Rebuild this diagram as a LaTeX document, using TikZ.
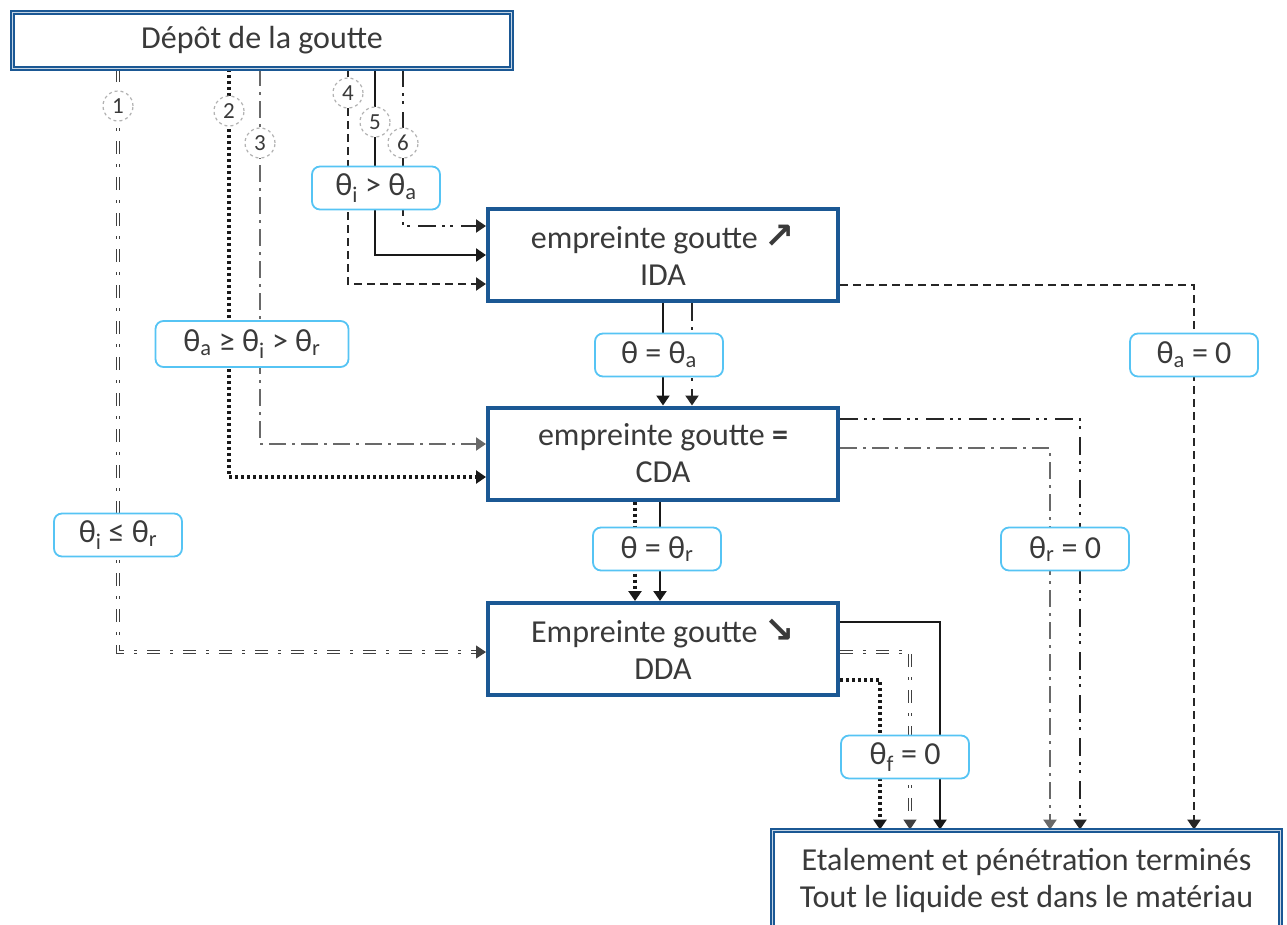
\documentclass[tikz,border=0pt]{standalone}
\usepackage{fontspec}
\setmainfont{Carlito}
\newfontfamily\flechefont{DejaVu Sans}
\usetikzlibrary{arrows.meta, positioning, calc, backgrounds}
\definecolor{dblue}{RGB}{27,88,148}
\definecolor{cyanb}{RGB}{86,196,244}
\definecolor{txt}{RGB}{58,58,58}
\definecolor{gline}{RGB}{105,105,105}

\tikzset{
  etape/.style={draw=dblue, line width=4pt, fill=white, minimum width=350pt, minimum height=92pt, align=center, text=txt, font=\fontsize{32}{37}\selectfont},
  cadre/.style={draw=dblue, double=dblue!25, double distance=1.4pt, line width=1.8pt, fill=white, align=center, text=txt, font=\fontsize{32}{37}\selectfont},
  cond/.style={draw=cyanb, line width=1.8pt, rounded corners=8pt, fill=white, minimum width=128pt, minimum height=43pt, text=txt, font=\fontsize{32}{37}\selectfont},
  num/.style={circle, draw=gray!60, dashed, line width=1.2pt, fill=white, minimum size=30pt, inner sep=0pt, text=txt, font=\fontsize{23}{25}\selectfont},
  fleche/.style={-{Triangle[length=10pt,width=13pt]}},
  pone/.style={fleche, draw=black!75, line width=1.1pt, double=white, double distance=1.4pt, dash pattern=on 13pt off 10pt on 3pt off 10pt},
  ptwo/.style={fleche, draw=black!90, line width=3.5pt, dash pattern=on 3pt off 3pt},
  pthree/.style={fleche, draw=gline, line width=2.2pt, dash pattern=on 17pt off 6pt on 3pt off 6pt},
  pfour/.style={fleche, draw=black!85, line width=2.2pt, dash pattern=on 8pt off 5pt},
  pfive/.style={fleche, draw=black!90, line width=2.2pt},
  psix/.style={fleche, draw=black!85, line width=2.2pt, dash pattern=on 18pt off 6pt on 3pt off 5pt on 3pt off 8pt}
}

\begin{document}
\begin{tikzpicture}[x=1pt, y=-1pt]
  \useasboundingbox (0,0) rectangle (1287,924);

  % Boxes
  \node[cadre, minimum width=499pt, minimum height=56pt] (depot) at (262,40.5) {Dépôt de la goutte};
  \node[etape] (IDA) at (663,255) {empreinte goutte {\flechefont\bfseries\fontsize{36}{37}\selectfont ↗}\\IDA};
  \node[etape] (CDA) at (663,453.5) {empreinte goutte \textbf{=}\\CDA};
  \node[etape] (DDA) at (663,649) {Empreinte goutte {\flechefont\bfseries\fontsize{36}{37}\selectfont ↘}\\DDA};
  \node[cadre, minimum width=508pt, minimum height=100pt] (fin) at (1026.5,880.5) {Etalement et pénétration terminés\\Tout le liquide est dans le matériau};

  % Path numbers
  \node[num] (c1) at (118,106) {1};
  \node[num] (c2) at (229,111) {2};
  \node[num] (c3) at (260,143) {3};
  \node[num] (c4) at (348,93) {4};
  \node[num] (c5) at (375,122) {5};
  \node[num] (c6) at (403,143) {6};

  % Conditions
  \node[cond] (lia) at (376,188) {θ\textsubscript{i} > θ\textsubscript{a}};
  \node[cond, minimum width=193pt, minimum height=46pt] (lar) at (252,344) {θ\textsubscript{a} ≥ θ\textsubscript{i} > θ\textsubscript{r}};
  \node[cond] (lir) at (118,535) {θ\textsubscript{i} ≤ θ\textsubscript{r}};
  \node[cond] (leqa) at (659,355) {θ = θ\textsubscript{a}};
  \node[cond] (leqr) at (657,549) {θ = θ\textsubscript{r}};
  \node[cond] (la0) at (1194,355) {θ\textsubscript{a} = 0};
  \node[cond] (lr0) at (1065,549) {θ\textsubscript{r} = 0};
  \node[cond] (lf0) at (905,757) {θ\textsubscript{f} = 0};

  % Connectors
  \begin{scope}[on background layer]
    \draw[pone] (depot.south -| c1) |- ([yshift=-3pt]DDA.west);
    \draw[ptwo] (depot.south -| c2) |- ([yshift=-23.5pt]CDA.west);
    \draw[pthree] (depot.south -| c3) |- ([yshift=9.5pt]CDA.west);
    \draw[pfour] (depot.south -| c4) |- ([yshift=-29pt]IDA.west);
    \draw[pfive] (depot.south -| c5) |- (IDA.west);
    \draw[psix] (depot.south -| c6) |- ([yshift=29pt]IDA.west);

    \draw[pfive] (IDA.south) -- (CDA.north);
    \draw[psix] ([xshift=29pt]IDA.south) -- ([xshift=29pt]CDA.north);
    \draw[ptwo] ([xshift=-28pt]CDA.south) -- ([xshift=-28pt]DDA.north);
    \draw[pfive] ([xshift=-3pt]CDA.south) -- ([xshift=-3pt]DDA.north);

    \draw[pfour] ([yshift=-30pt]IDA.east) -| (fin.north -| la0);
    \draw[psix] ([yshift=34.5pt]CDA.east) -| ($(fin.north -| lr0)+(15,0)$);
    \draw[pthree] ([yshift=5.5pt]CDA.east) -| ($(fin.north -| lr0)+(-15,0)$);
    \draw[pfive] ([yshift=27pt]DDA.east) -| ($(fin.north -| lf0)+(35,0)$);
    \draw[pone] ([yshift=-3pt]DDA.east) -| ($(fin.north -| lf0)+(5,0)$);
    \draw[ptwo] ([yshift=-31pt]DDA.east) -| ($(fin.north -| lf0)+(-25,0)$);
  \end{scope}
\end{tikzpicture}
\end{document}
